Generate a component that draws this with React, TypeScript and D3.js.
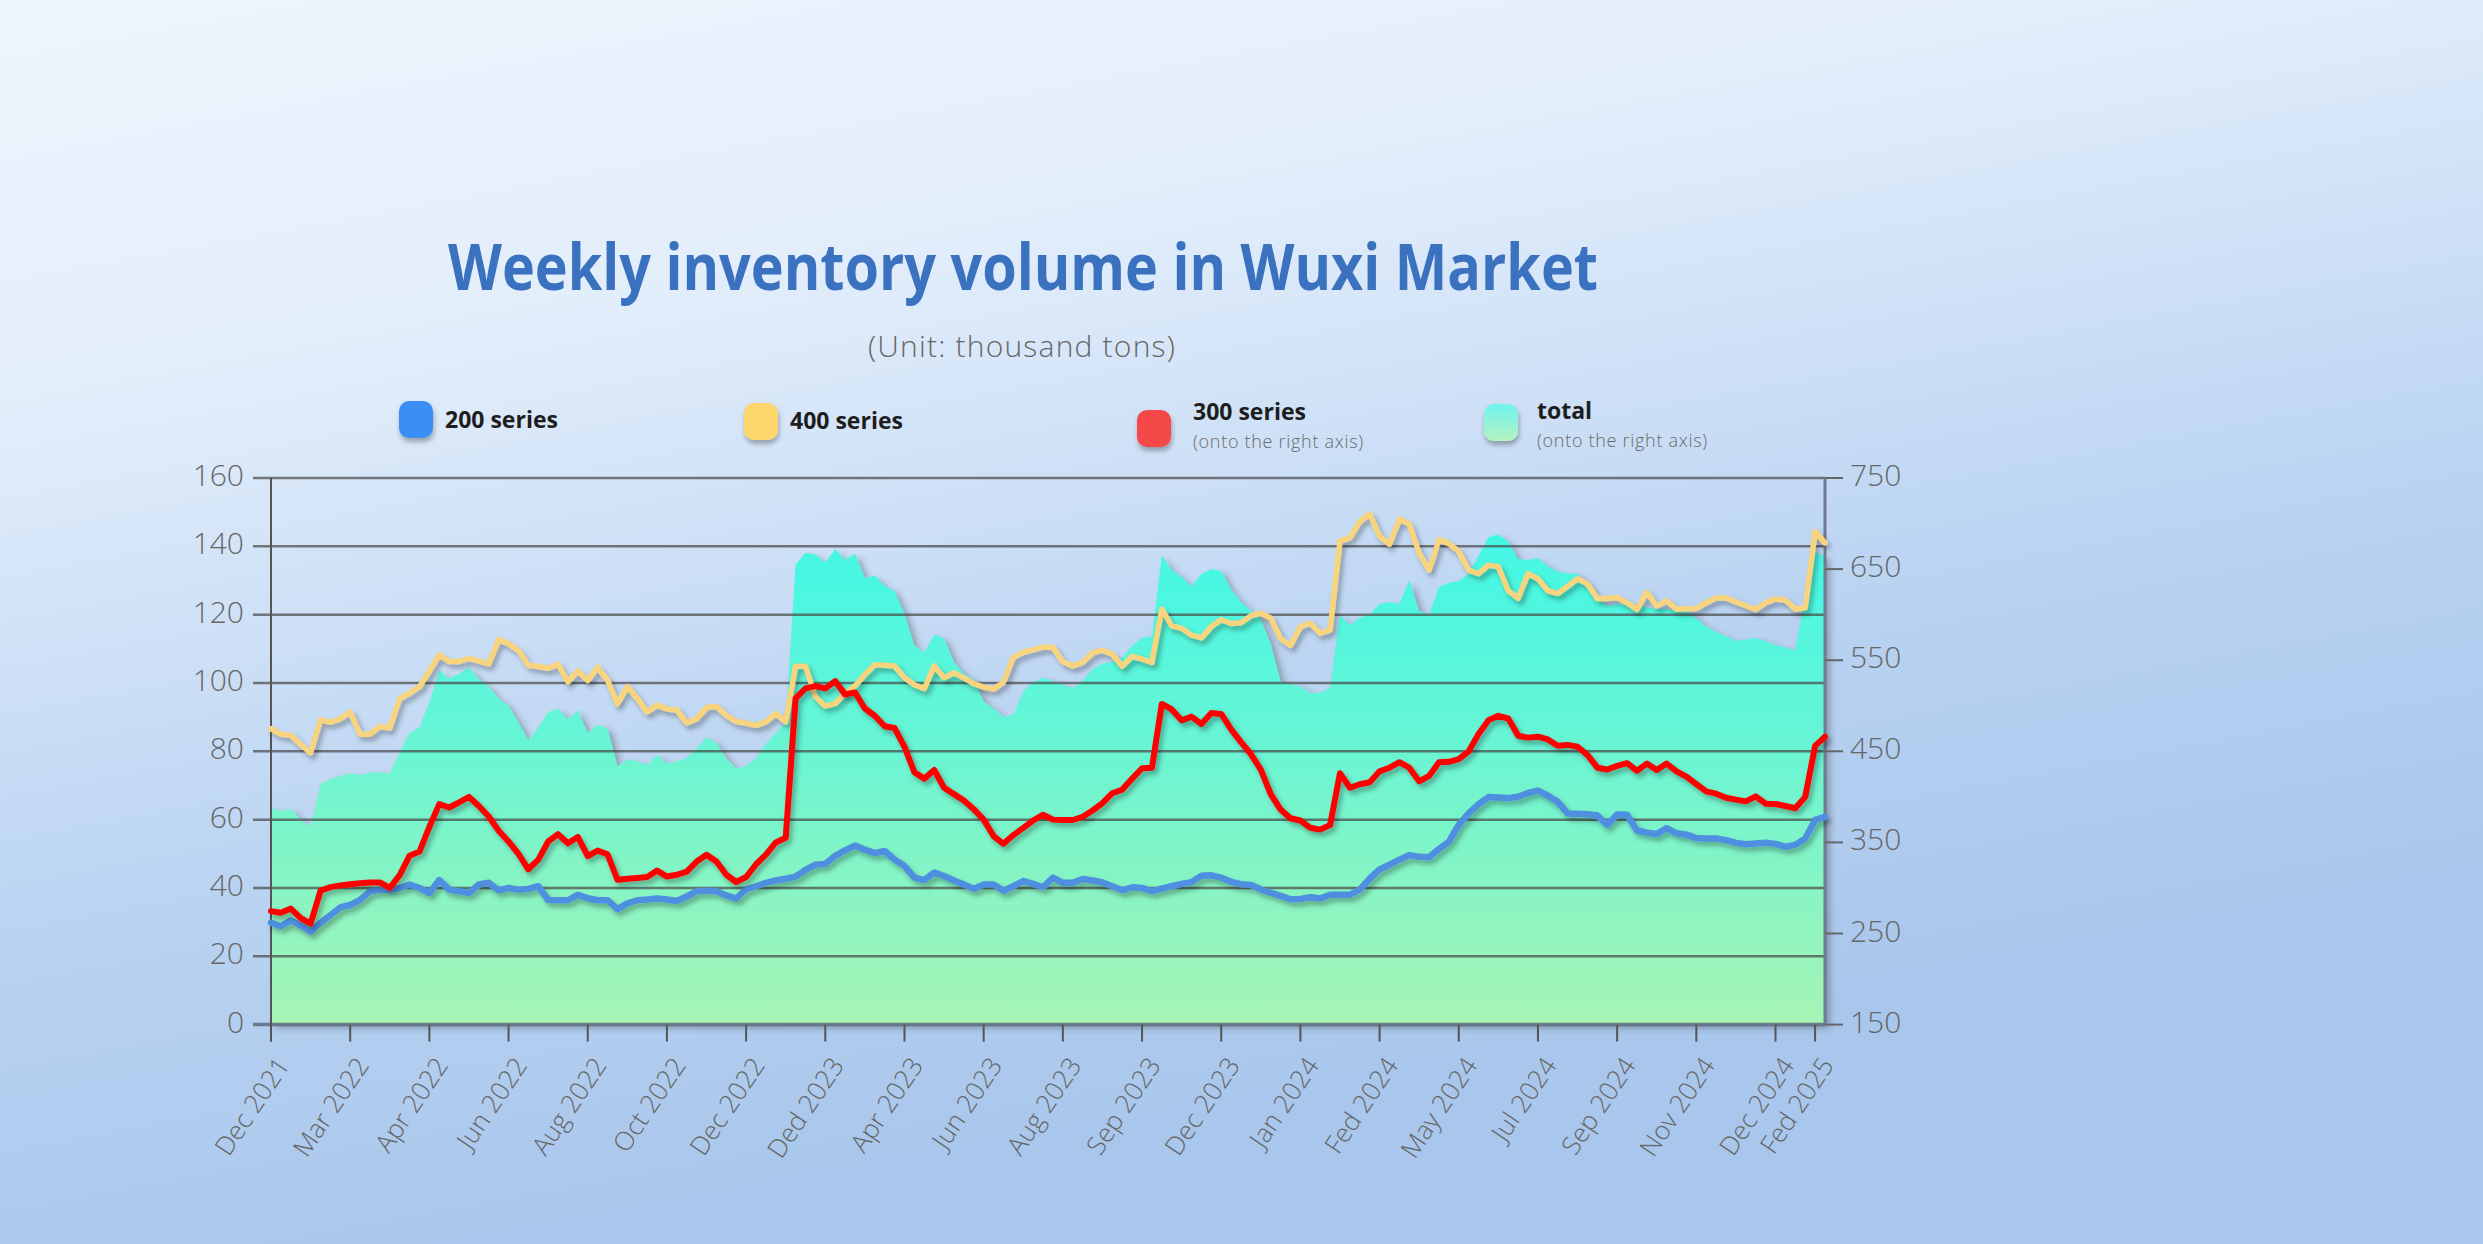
import React from 'react';
import * as d3 from 'd3';

// weekly points, Dec 2021 .. Feb 2025
const tickLabels = [
  'Dec 2021', 'Mar 2022', 'Apr 2022', 'Jun 2022', 'Aug 2022', 'Oct 2022', 'Dec 2022',
  'Ded 2023', 'Apr 2023', 'Jun 2023', 'Aug 2023', 'Sep 2023', 'Dec 2023', 'Jan 2024',
  'Fed 2024', 'May 2024', 'Jul 2024', 'Sep 2024', 'Nov 2024', 'Dec 2024', 'Fed 2025',
];
const tickWeeks = [0, 8, 16, 24, 32, 40, 48, 56, 64, 72, 80, 88, 96, 104, 112, 120, 128, 136, 144, 152, 156];

const series200 = [
  29.8, 28.8, 30.5, 29, 27.2, 29.8, 32, 34.3, 35, 36.5,
  39, 39.5, 39.5, 40, 41, 40, 38.5, 42.3, 39.5, 39,
  38.5, 41, 41.5, 39.3, 40, 39.5, 39.7, 40.5, 36.5, 36.4,
  36.4, 38, 37, 36.4, 36.4, 33.8, 35.5, 36.4, 36.6, 36.9,
  36.6, 36.2, 37.5, 39, 39.2, 39, 37.8, 36.9, 39.6, 40.5,
  41.5, 42.2, 42.7, 43.3, 45.3, 46.8, 47, 49.4, 51, 52.4,
  51.2, 50.2, 50.8, 48.3, 46.4, 43, 42.3, 44.5, 43.5, 42.2,
  41, 39.8, 41, 41, 39.2, 40.5, 42, 41.2, 40.2, 43,
  41.5, 41.5, 42.6, 42.2, 41.6, 40.5, 39.3, 40.2, 40, 39.1,
  39.8, 40.5, 41.2, 41.7, 43.6, 43.7, 43, 41.8, 41.1, 40.9,
  39.6, 38.6, 37.7, 36.7, 36.8, 37.3, 36.9, 38, 38, 38,
  39.5, 42.7, 45.4, 46.8, 48.3, 49.6, 49.1, 49, 51.4, 53.5,
  58.5, 61.8, 64.5, 66.6, 66.5, 66.3, 66.7, 67.8, 68.5, 67,
  65.2, 61.8, 61.7, 61.6, 61.2, 58.5, 61.5, 61.4, 56.8, 56.2,
  55.8, 57.5, 56, 55.6, 54.6, 54.5, 54.5, 54, 53.2, 52.8,
  53, 53.2, 52.9, 52, 52.6, 54.5, 59.9, 60.8,
];

const series400 = [
  86.6, 85, 84.7, 82, 79.5, 89.2, 88.5, 89.5, 91.5, 85,
  85, 87.3, 86.8, 95.4, 97, 98.9, 103.5, 108.2, 106.3, 106.3,
  107.2, 106.4, 105.6, 112.7, 111.5, 109.5, 105.2, 104.8, 104.3, 105.5,
  100.3, 103.5, 100.7, 104.6, 100.8, 93.9, 98.9, 95.5, 91.5, 93.5,
  92.4, 92.1, 88.3, 89.5, 92.8, 93.1, 90.5, 88.7, 88.2, 87.6,
  88.6, 91, 88.6, 104.9, 104.9, 96, 93.2, 94, 97, 99.1,
  102.5, 105.3, 105.2, 105, 101.5, 99.5, 98.3, 105, 101.5, 103,
  101.5, 99.8, 98.8, 98.2, 100.2, 107.5, 109, 109.7, 110.5, 110.4,
  106.2, 105, 106, 108.8, 109.6, 108.4, 104.9, 107.8, 107, 106,
  121.6, 116.7, 116, 114, 113.2, 116.5, 118.5, 117.4, 117.6, 119.7,
  120.4, 119, 113, 111, 116.5, 117.5, 114.5, 115.5, 141.6, 142.5,
  147.2, 149.5, 143, 140.6, 148, 146.5, 138, 133, 142, 140.8,
  138.5, 133, 132, 134.5, 134, 127, 124.8, 132, 130.5, 127,
  126.2, 128.3, 130.5, 129, 124.7, 124.7, 125, 123.5, 121.5, 126.5,
  122.5, 124, 121.6, 121.7, 121.8, 123.5, 124.9, 124.9, 123.7, 122.6,
  121.5, 123.5, 124.6, 124.3, 121.6, 122, 144.3, 141,
];

// right axis
const series300 = [
  274.6, 272.7, 277.4, 266.8, 260.9, 296.9, 300.9, 302.8, 304, 305.2,
  306, 306, 300.1, 314, 335.4, 340, 367, 392, 388.3, 394,
  400, 390, 378.5, 362.8, 351, 337.3, 320.5, 331, 351, 359,
  349, 356, 335, 341, 337, 309, 310, 311, 312, 319,
  312.5, 314.5, 318, 329, 336.5, 329, 314.5, 306.5, 312, 326,
  336.5, 350, 355, 508, 519, 521.5, 519, 527, 512.5, 514.5,
  497, 489, 477.5, 475.5, 455, 427, 420, 429.5, 410, 403,
  396, 386.5, 375, 357, 348.5, 358, 366, 374, 380.4, 375,
  374.6, 374.6, 378, 385, 393, 404, 408, 420, 431.4, 432,
  502, 496, 484, 488, 480, 492, 491, 474, 460, 447,
  430, 403, 386, 376.5, 374, 366, 364, 369, 426, 410,
  413.8, 416, 428, 432, 438, 432, 417, 423, 438, 438.5,
  441.5, 450, 469, 484, 489, 486, 467, 465, 466, 463,
  456, 457, 455, 446, 432, 430, 434, 437, 428.6, 436.5,
  429.4, 436.5, 428, 422.3, 414, 406, 403.5, 399, 397, 395,
  400.5, 392.5, 392.2, 390, 387.5, 400, 456, 466,
];

// right axis
const seriesTotal = [
  388, 384.4, 387, 375, 367.5, 413.8, 419.6, 423, 426, 424,
  427, 426.5, 425.5, 449, 470, 476, 504, 539, 530, 535,
  542, 529, 521, 508, 500, 482, 462, 476, 493, 497,
  485, 495, 470, 479, 475, 434, 441, 439, 435, 446,
  437, 439, 443, 453, 465.5, 459, 442, 431, 434, 443,
  458, 470, 482, 655, 668, 666, 657, 672, 660, 667,
  640, 643, 631.5, 626, 601, 566, 558.5, 578, 574, 548,
  535, 529, 505, 497, 488, 490, 516, 526, 531, 527,
  523, 519, 528, 540, 546, 548, 553, 566, 575, 576,
  665, 649, 641.5, 631, 645, 650, 648, 628, 614, 604,
  595, 568, 527, 524, 521, 514, 514, 520, 600, 588,
  597, 600, 612, 614, 612, 637.5, 604, 600, 630, 635,
  637, 645, 665, 685, 688, 680, 661, 660, 662, 653,
  647.5, 645.5, 644.5, 631, 617, 610, 611.5, 611, 609.5, 608,
  606.5, 606, 605, 604, 596, 587, 581, 576, 571, 572.5,
  574.4, 571, 566.5, 564, 561, 620, 668.5, 664,
];

const leftTicks = [0, 20, 40, 60, 80, 100, 120, 140, 160];
const rightTicks = [150, 250, 350, 450, 550, 650, 750];

const W = 2483;
const H = 1244;
const plot = { left: 271, right: 1825, top: 478, bottom: 1024.6 };
const font = "'Open Sans', 'Noto Sans', sans-serif";

export default function App() {
  const x = d3.scaleLinear().domain([0, series200.length - 1]).range([plot.left, plot.right]);
  const yL = d3.scaleLinear().domain([0, 160]).range([plot.bottom, plot.top]);
  const yR = d3.scaleLinear().domain([150, 750]).range([plot.bottom, plot.top]);

  const area = d3.area<number>().x((_, i) => x(i)).y0(yR(150)).y1(d => yR(d));
  const lineL = d3.line<number>().x((_, i) => x(i)).y(d => yL(d));
  const lineR = d3.line<number>().x((_, i) => x(i)).y(d => yR(d));

  const legend = [
    { x: 399, y: 401, fill: '#3a8ef6', label: '200 series', sub: '', tx: 445, ty: 428 },
    { x: 744, y: 403, fill: '#fdd66c', label: '400 series', sub: '', tx: 790, ty: 429 },
    { x: 1137, y: 410, fill: '#f54848', label: '300 series', sub: '(onto the right axis)', tx: 1193, ty: 420 },
    { x: 1484, y: 404, fill: 'url(#legTotal)', label: 'total', sub: '(onto the right axis)', tx: 1537, ty: 419 },
  ];

  return (
    <div style={{ position: 'fixed', inset: 0, overflow: 'hidden' }}>
      <svg width={W} height={H} style={{ display: 'block' }} fontFamily={font}>
        <defs>
          <linearGradient id="bg" gradientUnits="userSpaceOnUse" x1={0} y1={0} x2={240} y2={1290}>
            <stop offset="0" stopColor="#eef5fd" />
            <stop offset="0.3" stopColor="#e3eefb" />
            <stop offset="0.72" stopColor="#b8d2f1" />
            <stop offset="1" stopColor="#a9c7ec" />
          </linearGradient>
          <linearGradient id="areaFill" gradientUnits="userSpaceOnUse" x1={0} y1={plot.top} x2={0} y2={plot.bottom}>
            <stop offset="0" stopColor="#38f8ea" />
            <stop offset="0.45" stopColor="#64f5d6" />
            <stop offset="1" stopColor="#a6f4b4" />
          </linearGradient>
          <linearGradient id="legTotal" x1="0" y1="0" x2="0" y2="1">
            <stop offset="0" stopColor="#6ef3ee" />
            <stop offset="1" stopColor="#b6f2c2" />
          </linearGradient>
          <filter id="shadow" x="-5%" y="-5%" width="110%" height="115%">
            <feDropShadow dx="3" dy="4" stdDeviation="2.5" floodColor="#000" floodOpacity="0.3" />
          </filter>
          <filter id="areaShadow" x="-5%" y="-5%" width="110%" height="115%">
            <feDropShadow dx="5" dy="4" stdDeviation="3" floodColor="#333" floodOpacity="0.35" />
          </filter>
          <filter id="legShadow" x="-30%" y="-30%" width="160%" height="170%">
            <feDropShadow dx="1" dy="4" stdDeviation="2.5" floodColor="#000" floodOpacity="0.3" />
          </filter>
        </defs>

        <rect width={W} height={H} fill="url(#bg)" />

        <text x={1023} y={290} textAnchor="middle" fontSize={64} fontWeight={700} fill="#3b72bf"
          textLength={1150} lengthAdjust="spacingAndGlyphs">
          Weekly inventory volume in Wuxi Market
        </text>
        <text x={1022} y={357} textAnchor="middle" fontSize={30} fontWeight={300} fill="#666"
          letterSpacing={1.2}>
          (Unit: thousand tons)
        </text>

        {legend.map(d => (
          <g key={d.label}>
            <rect x={d.x} y={d.y} width={34} height={37} rx={10} fill={d.fill} filter="url(#legShadow)" />
            <text x={d.tx} y={d.ty} fontSize={23} fontWeight={700} fill="#1d1d1d">{d.label}</text>
            {d.sub && (
              <text x={d.tx} y={d.ty + 28} fontSize={18} fontWeight={300} fill="#6a6a6a"
                letterSpacing={0.7}>{d.sub}</text>
            )}
          </g>
        ))}

        <path d={area(seriesTotal) || ''} fill="url(#areaFill)" filter="url(#areaShadow)" />

        {leftTicks.map(t => (
          <line key={t} x1={253} x2={plot.right} y1={yL(t)} y2={yL(t)}
            stroke={t === 0 ? '#5f6f86' : '#4a4a4a'} strokeWidth={t === 0 ? 3.5 : 2.5}
            strokeOpacity={t === 0 ? 0.9 : 0.72} />
        ))}
        {leftTicks.map(t => (
          <text key={t} x={244} y={yL(t)} textAnchor="end" dominantBaseline="middle"
            fontSize={30} fontWeight={300} fill="#666">{t}</text>
        ))}
        <line x1={plot.left} x2={plot.left} y1={plot.top} y2={plot.bottom + 17} stroke="#555" strokeWidth={2} />

        <line x1={plot.right} x2={plot.right} y1={plot.top} y2={plot.bottom} stroke="#6f7b8f" strokeWidth={3} />
        {rightTicks.map(t => (
          <g key={t}>
            <line x1={plot.right} x2={plot.right + 18} y1={yR(t)} y2={yR(t)} stroke="#666" strokeWidth={2} />
            <text x={plot.right + 25} y={yR(t)} dominantBaseline="middle" fontSize={30} fontWeight={300}
              fill="#666">{t}</text>
          </g>
        ))}

        {tickWeeks.map((w, i) => (
          <g key={i}>
            <line x1={x(w)} x2={x(w)} y1={plot.bottom} y2={plot.bottom + 17} stroke="#555" strokeWidth={2} />
            <text transform={`translate(${x(w) + 14},${plot.bottom + 37}) rotate(-56)`}
              textAnchor="end" dominantBaseline="middle" fontSize={26} fontWeight={300} fill="#666">
              {tickLabels[i]}
            </text>
          </g>
        ))}

        <path d={lineL(series200) || ''} fill="none" stroke="#4f8fdf" strokeWidth={6.5}
          strokeLinejoin="round" strokeLinecap="round" filter="url(#shadow)" />
        <path d={lineL(series400) || ''} fill="none" stroke="#f8d47e" strokeWidth={5.5}
          strokeLinejoin="round" strokeLinecap="round" filter="url(#shadow)" />
        <path d={lineR(series300) || ''} fill="none" stroke="#ff0000" strokeWidth={6}
          strokeLinejoin="round" strokeLinecap="round" filter="url(#shadow)" />
      </svg>
    </div>
  );
}
